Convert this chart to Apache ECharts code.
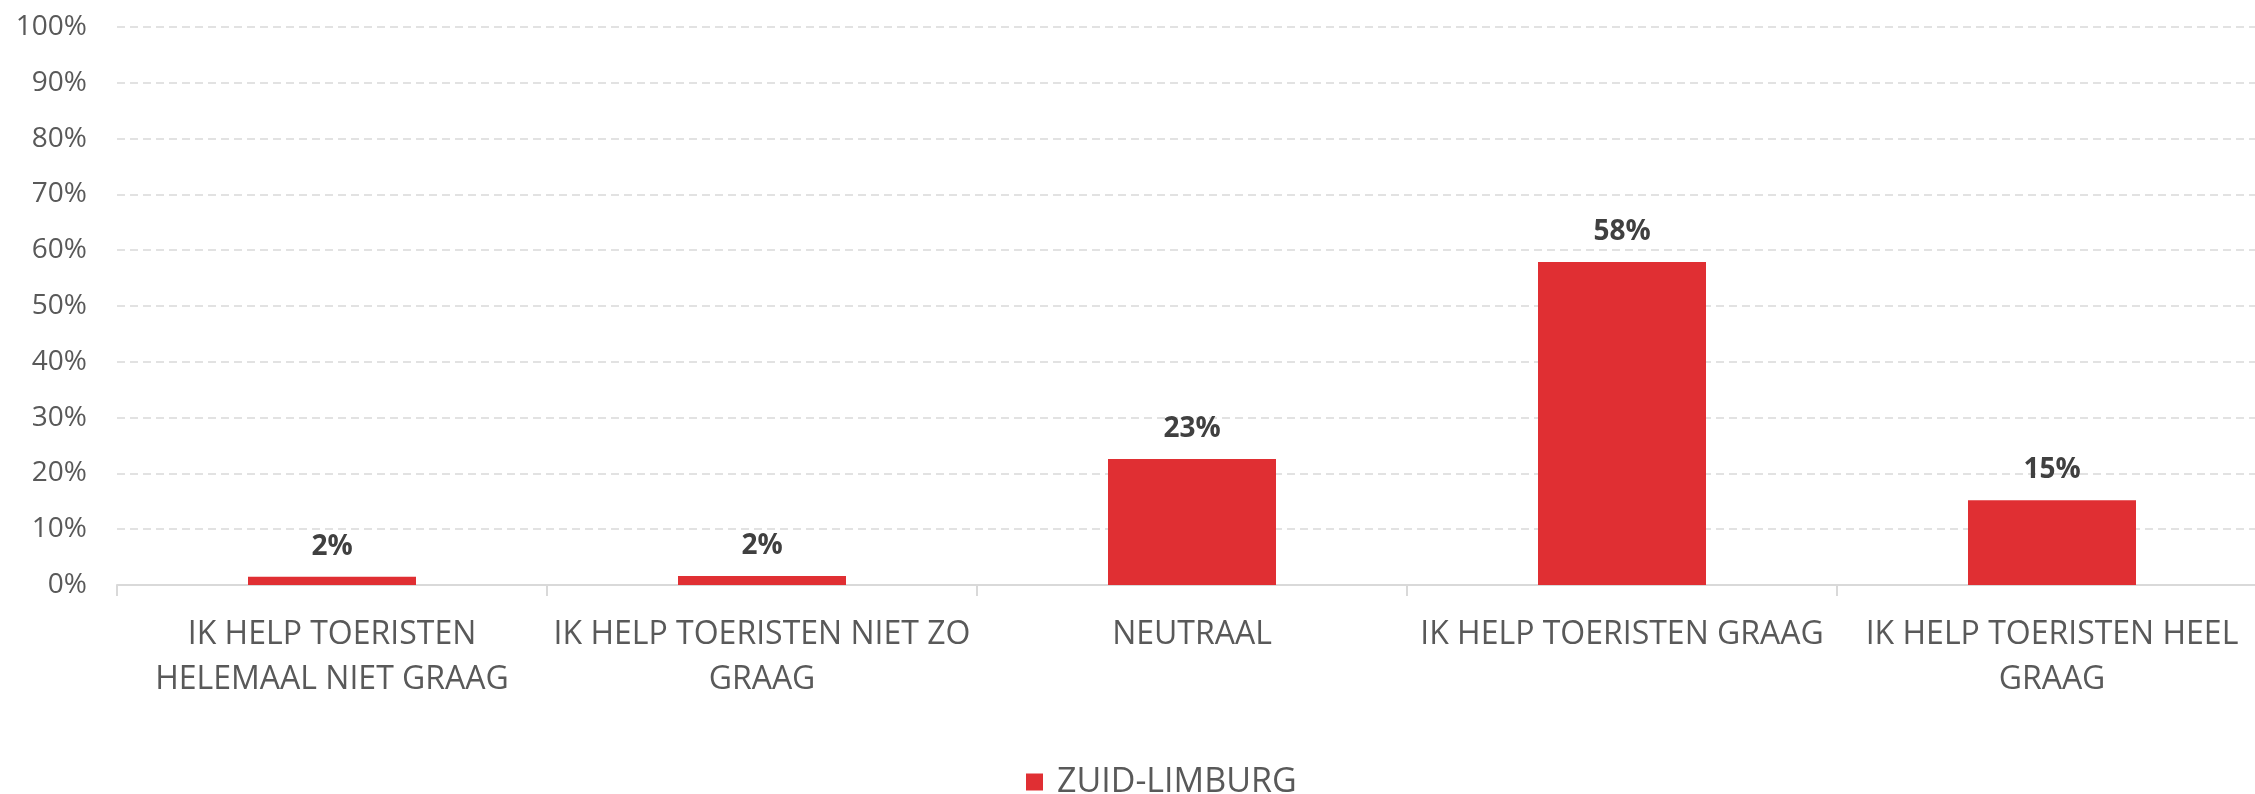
<!DOCTYPE html>
<html>
<head>
<meta charset="utf-8">
<style>
  html, body { margin: 0; padding: 0; background: #fff; }
  #chart { width: 2255px; height: 794px; }
</style>
<script src="https://cdn.jsdelivr.net/npm/echarts@6/dist/echarts.min.js"></script>
</head>
<body>
<div id="chart"></div>
<script>
// data
var categories = [
    'IK HELP TOERISTEN\nHELEMAAL NIET GRAAG',
    'IK HELP TOERISTEN NIET ZO\nGRAAG',
    'NEUTRAAL',
    'IK HELP TOERISTEN GRAAG',
    'IK HELP TOERISTEN HEEL\nGRAAG'
];
var seriesName = 'ZUID-LIMBURG';
var values = [1.5, 1.6, 22.6, 57.9, 15.2];
var yTicks = { min: 0, max: 100, interval: 10 };

var fontFamily = '"Open Sans", "Noto Sans", sans-serif';

var option = {
    animation: false,
    color: ['#E02F33'],
    textStyle: { fontFamily: fontFamily },
    grid: {
        left: 117,
        top: 27,
        right: -12,
        bottom: 209,
        outerBoundsMode: 'none'
    },
    legend: {
        data: [seriesName],
        left: 1021,
        top: 760,
        icon: 'rect',
        itemWidth: 17,
        itemHeight: 17,
        textStyle: {
            fontSize: 34,
            color: '#595959',
            padding: [0, 0, 0, 9]
        }
    },
    xAxis: {
        type: 'category',
        data: categories,
        axisLine: {
            lineStyle: { color: '#D9D9D9', width: 2 }
        },
        axisTick: {
            show: true,
            length: 11,
            lineStyle: { color: '#D9D9D9', width: 2 }
        },
        axisLabel: {
            interval: 0,
            margin: 27,
            fontSize: 32,
            lineHeight: 45,
            color: '#595959'
        },
        splitLine: { show: false }
    },
    yAxis: {
        type: 'value',
        min: yTicks.min,
        max: yTicks.max,
        interval: yTicks.interval,
        axisLine: { show: false },
        axisTick: { show: false },
        axisLabel: {
            margin: 30,
            fontSize: 28,
            color: '#595959',
            formatter: '{value}%'
        },
        splitLine: {
            lineStyle: {
                color: '#D9D9D9',
                width: 1.5,
                type: [8, 5]
            }
        }
    },
    series: [{
        name: seriesName,
        type: 'bar',
        barWidth: 168,
        data: values,
        label: {
            show: true,
            position: 'top',
            distance: 16,
            fontSize: 28,
            fontWeight: 'bold',
            color: '#404040',
            formatter: function (p) {
                return Math.round(p.value) + '%';
            }
        }
    }]
};

var myChart = echarts.init(document.getElementById('chart'));
myChart.setOption(option);
</script>
</body>
</html>
